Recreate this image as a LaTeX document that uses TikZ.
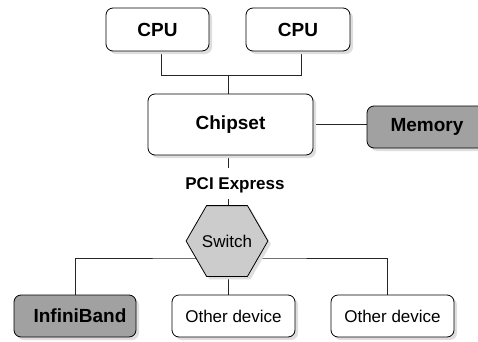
\documentclass[tikz,border=0pt]{standalone}
\usepackage{fontspec}
\setmainfont{Liberation Sans}
\usetikzlibrary{shapes.geometric,shadows,backgrounds}
\tikzset{
  x=1pt,y=1pt,
  sh/.style={drop shadow={shadow xshift=3pt,shadow yshift=-3pt,fill=black!13,opacity=1}},
  box/.style={draw=black,line width=0.8pt,rounded corners=7pt,fill=white,sh,inner sep=0pt,
    font=\fontsize{19}{21}\selectfont\bfseries},
  gbox/.style={box,fill=black!37},
  dev/.style={box,font=\fontsize{17}{19}\selectfont},
  hex/.style={draw=black,line width=0.8pt,regular polygon,regular polygon sides=6,minimum size=72pt,
    inner sep=0pt,fill=black!20,sh,font=\fontsize{17}{19}\selectfont},
  wire/.style={line width=0.8pt,draw=black!85},
  lbl/.style={font=\fontsize{17}{19}\selectfont\bfseries,inner sep=0pt}
}
\begin{document}
\begin{tikzpicture}
\useasboundingbox (0,0) rectangle (478,341);
\node[box,minimum width=103pt,minimum height=43pt] (cpu1) at (157.5,311.5) {CPU};
\node[box,minimum width=104pt,minimum height=43pt] (cpu2) at (298,311.5) {CPU};
\node[box,minimum width=165pt,minimum height=61pt] (chip) at (230.5,216.5) {Chipset};
\node[gbox,minimum width=120pt,minimum height=42pt] (mem) at (427,214) {Memory};
\node[lbl] (pci) at (235,156) {PCI Express};
\node[hex] (sw) at (227,100) {Switch};
\node[gbox,minimum width=122pt,minimum height=42pt] (ib) at (75,25) {\hspace{10pt}InfiniBand};
\node[dev,minimum width=123pt,minimum height=42pt] (od1) at (233.5,25) {Other device};
\node[dev,minimum width=123pt,minimum height=42pt] (od2) at (392.5,25) {Other device};
\coordinate (j) at (228,266);
\coordinate (b) at (228,83);
\begin{scope}[on background layer]
\draw[wire] ([xshift=3.5pt]cpu1.south) |- (j);
\draw[wire] ([xshift=3pt]cpu2.south) |- (j);
\draw[wire] (j) -- (j |- chip.north);
\draw[wire] (chip.east) -- (chip.east -| mem.west);
\draw[wire] (j |- chip.south) -- ([yshift=9pt]j |- pci.north);
\draw[wire] ([yshift=-6pt]j |- pci.south) -- (j |- sw.north);
\draw[wire] (ib.north) |- (b) -| ([xshift=-5.5pt]od2.north);
\draw[wire] (j |- sw.south) -- (j |- od1.north);
\end{scope}
\end{tikzpicture}
\end{document}
